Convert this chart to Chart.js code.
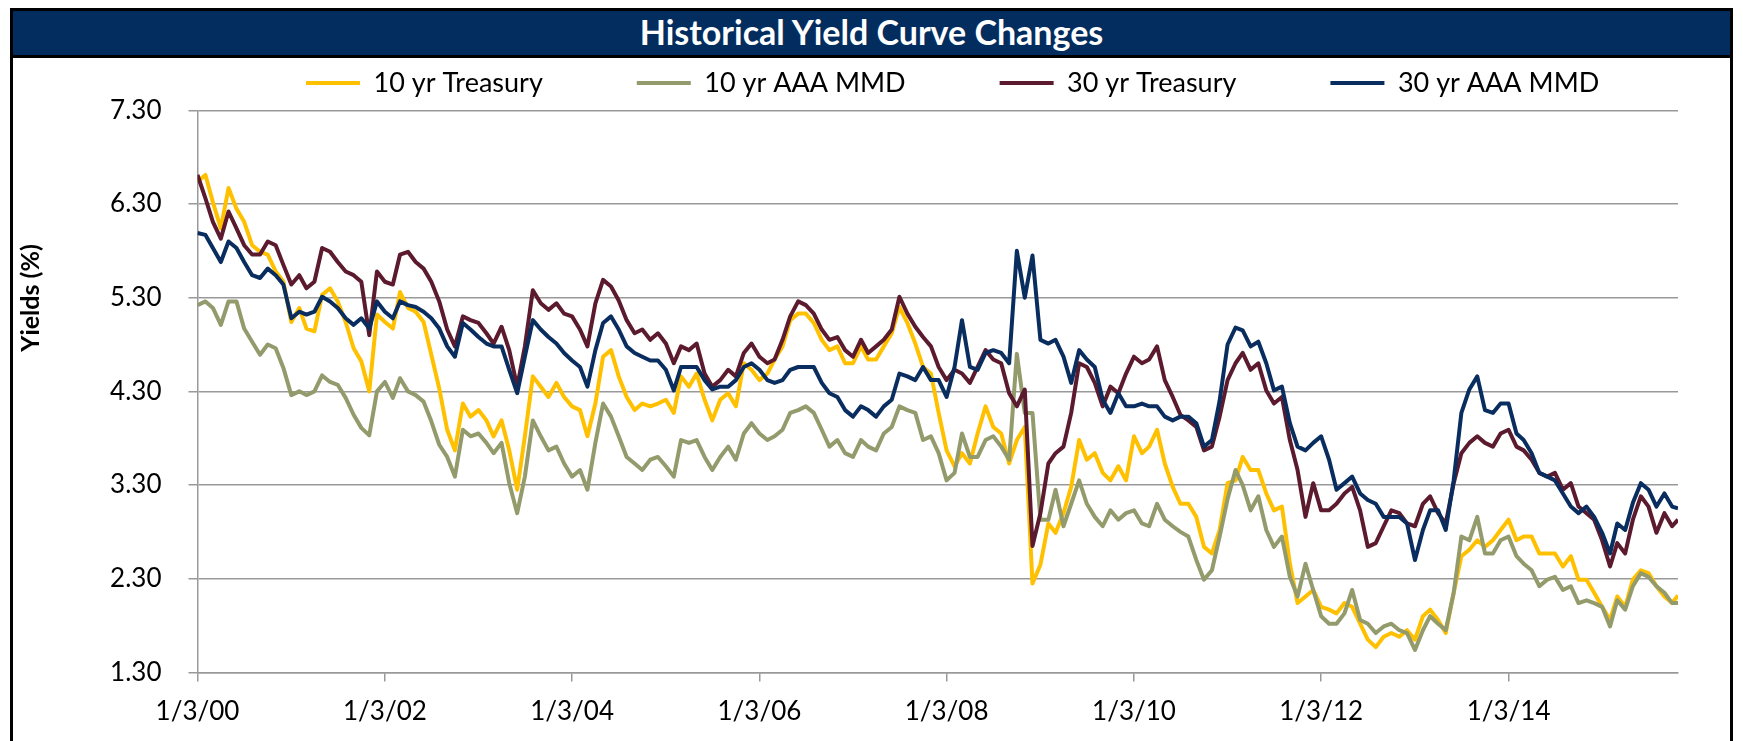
<!DOCTYPE html>
<html>
<head>
<meta charset="utf-8">
<title>Historical Yield Curve Changes</title>
<script src="https://cdn.jsdelivr.net/npm/chart.js@4.4.1/dist/chart.umd.min.js"></script>
<style>
  html, body { margin: 0; background: #fff; overflow: hidden; }
  .frame { position: absolute; left: 10px; top: 8px; width: 1717px; height: 760px; border: 3px solid #000; }
  .banner { height: 44px; line-height: 44px; background: #022d5e; border-bottom: 3px solid #000;
            color: #fff; font: bold 34px Lato, sans-serif; text-align: center; }
  canvas { display: block; }
</style>
</head>
<body>
<div class="frame">
  <div class="banner">Historical Yield Curve Changes</div>
  <canvas id="chart" width="1717" height="683"></canvas>
</div>
<script>
const seriesNames = ['10 yr Treasury', '10 yr AAA MMD', '30 yr Treasury', '30 yr AAA MMD'];
const seriesColors = ['#ffc000', '#939b6c', '#5b1a2d', '#0a2d5f'];

// one reading per month (3rd of the month) Jan 2000 - Oct 2015, then the last day shown
const dates = [];
for (let y = 2000; y <= 2015; y++) {
  for (let m = 1; m <= 12; m++) {
    if (y === 2015 && m > 10) break;
    dates.push(y + '-' + String(m).padStart(2, '0') + '-03');
  }
}
dates.push('2015-10-26');

const treasury10 = [
  6.54, 6.61, 6.32, 6.04, 6.47, 6.25, 6.11, 5.86, 5.79, 5.76, 5.58, 5.47, // 2000
  5.04, 5.19, 4.97, 4.94, 5.33, 5.40, 5.26, 5.04, 4.76, 4.62, 4.30, 5.12,
  5.04, 4.97, 5.36, 5.19, 5.15, 5.04, 4.69, 4.33, 3.89, 3.67, 4.17, 4.03,
  4.10, 3.99, 3.82, 3.99, 3.67, 3.25, 3.82, 4.46, 4.35, 4.24, 4.39, 4.24,
  4.14, 4.10, 3.82, 4.17, 4.67, 4.74, 4.46, 4.24, 4.10, 4.17, 4.14, 4.17, // 2004
  4.21, 4.07, 4.46, 4.35, 4.49, 4.21, 3.99, 4.21, 4.28, 4.14, 4.60, 4.53,
  4.42, 4.49, 4.64, 4.78, 5.06, 5.13, 5.13, 5.03, 4.85, 4.74, 4.78, 4.60,
  4.60, 4.78, 4.64, 4.64, 4.78, 4.92, 5.20, 5.03, 4.81, 4.56, 4.49, 4.07,
  3.67, 3.50, 3.64, 3.53, 3.85, 4.14, 3.92, 3.85, 3.53, 3.78, 3.92, 2.25, // 2008
  2.45, 2.89, 2.79, 3.00, 3.28, 3.78, 3.57, 3.64, 3.43, 3.35, 3.50, 3.35,
  3.82, 3.64, 3.71, 3.89, 3.53, 3.28, 3.10, 3.10, 2.96, 2.64, 2.57, 2.82,
  3.32, 3.35, 3.60, 3.46, 3.46, 3.21, 3.03, 3.07, 2.46, 2.04, 2.11, 2.18,
  2.00, 1.97, 1.93, 2.04, 2.00, 1.82, 1.65, 1.57, 1.68, 1.72, 1.68, 1.75, // 2012
  1.65, 1.90, 1.97, 1.86, 1.72, 2.15, 2.54, 2.61, 2.71, 2.64, 2.71, 2.82,
  2.93, 2.71, 2.75, 2.75, 2.57, 2.57, 2.57, 2.43, 2.54, 2.29, 2.29, 2.15,
  2.00, 1.86, 2.11, 2.00, 2.29, 2.39, 2.36, 2.22, 2.11, 2.04, 2.12
];
const mmd10 = [
  5.22, 5.26, 5.19, 5.01, 5.26, 5.26, 4.97, 4.83, 4.69, 4.80, 4.76, 4.55, // 2000
  4.26, 4.30, 4.26, 4.30, 4.47, 4.40, 4.37, 4.23, 4.05, 3.91, 3.83, 4.30,
  4.40, 4.23, 4.44, 4.30, 4.26, 4.19, 3.98, 3.73, 3.60, 3.39, 3.89, 3.82,
  3.85, 3.75, 3.64, 3.75, 3.32, 3.00, 3.39, 3.99, 3.82, 3.67, 3.71, 3.53,
  3.39, 3.46, 3.25, 3.75, 4.17, 4.03, 3.82, 3.60, 3.53, 3.46, 3.57, 3.60, // 2004
  3.50, 3.39, 3.78, 3.75, 3.78, 3.60, 3.46, 3.60, 3.71, 3.57, 3.85, 3.96,
  3.85, 3.78, 3.82, 3.89, 4.07, 4.10, 4.14, 4.07, 3.89, 3.71, 3.78, 3.64,
  3.60, 3.78, 3.71, 3.67, 3.85, 3.92, 4.14, 4.10, 4.07, 3.78, 3.82, 3.64,
  3.35, 3.43, 3.85, 3.60, 3.60, 3.78, 3.82, 3.71, 3.57, 4.70, 4.07, 4.07, // 2008
  2.93, 2.93, 3.25, 2.86, 3.10, 3.35, 3.10, 2.96, 2.86, 3.03, 2.93, 3.00,
  3.03, 2.89, 2.86, 3.10, 2.93, 2.86, 2.80, 2.75, 2.50, 2.29, 2.39, 2.75,
  3.15, 3.46, 3.30, 3.03, 3.18, 2.82, 2.64, 2.75, 2.32, 2.11, 2.46, 2.18,
  1.90, 1.82, 1.82, 1.93, 2.18, 1.86, 1.82, 1.72, 1.79, 1.82, 1.75, 1.72, // 2012
  1.54, 1.75, 1.90, 1.82, 1.75, 2.15, 2.75, 2.71, 2.96, 2.57, 2.57, 2.71,
  2.75, 2.54, 2.46, 2.39, 2.22, 2.29, 2.32, 2.18, 2.22, 2.04, 2.07, 2.04,
  2.00, 1.79, 2.07, 1.97, 2.22, 2.36, 2.32, 2.22, 2.15, 2.04, 2.04
];
const treasury30 = [
  6.61, 6.36, 6.11, 5.93, 6.22, 6.04, 5.86, 5.76, 5.76, 5.90, 5.86, 5.65, // 2000
  5.44, 5.54, 5.40, 5.47, 5.83, 5.79, 5.68, 5.58, 5.54, 5.47, 4.90, 5.58,
  5.47, 5.44, 5.76, 5.79, 5.68, 5.61, 5.47, 5.26, 4.96, 4.78, 5.10, 5.06,
  5.03, 4.92, 4.81, 4.99, 4.74, 4.35, 4.78, 5.38, 5.24, 5.17, 5.24, 5.13,
  5.10, 4.96, 4.78, 5.24, 5.49, 5.42, 5.27, 5.06, 4.92, 4.96, 4.85, 4.92, // 2004
  4.81, 4.60, 4.78, 4.74, 4.81, 4.49, 4.35, 4.42, 4.53, 4.46, 4.71, 4.81,
  4.67, 4.60, 4.64, 4.85, 5.10, 5.26, 5.22, 5.13, 4.96, 4.85, 4.88, 4.74,
  4.67, 4.85, 4.71, 4.78, 4.85, 4.96, 5.31, 5.13, 4.99, 4.88, 4.78, 4.56,
  4.42, 4.53, 4.49, 4.39, 4.56, 4.74, 4.64, 4.60, 4.28, 4.14, 4.32, 2.65, // 2008
  3.00, 3.53, 3.64, 3.71, 4.07, 4.60, 4.56, 4.39, 4.14, 4.35, 4.28, 4.49,
  4.67, 4.60, 4.64, 4.78, 4.42, 4.24, 4.05, 3.99, 3.92, 3.67, 3.71, 4.03,
  4.42, 4.60, 4.71, 4.53, 4.60, 4.31, 4.17, 4.24, 3.78, 3.46, 2.96, 3.32,
  3.03, 3.03, 3.10, 3.21, 3.28, 3.03, 2.64, 2.68, 2.86, 3.03, 3.00, 2.89, // 2012
  2.86, 3.10, 3.18, 3.00, 2.89, 3.32, 3.64, 3.75, 3.82, 3.75, 3.71, 3.85,
  3.89, 3.71, 3.67, 3.57, 3.43, 3.39, 3.43, 3.25, 3.32, 3.07, 3.00, 2.93,
  2.71, 2.43, 2.68, 2.57, 2.93, 3.18, 3.07, 2.79, 3.00, 2.86, 2.93
];
const mmd30 = [
  5.99, 5.97, 5.83, 5.68, 5.90, 5.83, 5.68, 5.54, 5.51, 5.61, 5.54, 5.44, // 2000
  5.08, 5.15, 5.12, 5.15, 5.31, 5.26, 5.19, 5.08, 5.01, 5.08, 4.97, 5.26,
  5.15, 5.08, 5.26, 5.22, 5.20, 5.15, 5.08, 4.97, 4.78, 4.67, 5.03, 4.96,
  4.88, 4.81, 4.78, 4.78, 4.53, 4.28, 4.67, 5.06, 4.96, 4.88, 4.81, 4.71,
  4.63, 4.56, 4.35, 4.74, 5.03, 5.10, 4.96, 4.78, 4.71, 4.67, 4.63, 4.63, // 2004
  4.53, 4.31, 4.56, 4.56, 4.56, 4.42, 4.32, 4.35, 4.35, 4.42, 4.56, 4.60,
  4.53, 4.42, 4.39, 4.42, 4.53, 4.56, 4.56, 4.56, 4.39, 4.28, 4.24, 4.10,
  4.03, 4.14, 4.10, 4.03, 4.14, 4.21, 4.49, 4.46, 4.42, 4.56, 4.42, 4.42,
  4.24, 4.56, 5.06, 4.56, 4.53, 4.71, 4.74, 4.71, 4.60, 5.80, 5.30, 5.75, // 2008
  4.85, 4.81, 4.85, 4.67, 4.39, 4.74, 4.64, 4.56, 4.21, 4.07, 4.28, 4.14,
  4.14, 4.17, 4.14, 4.14, 4.03, 3.99, 4.03, 4.03, 3.96, 3.71, 3.78, 4.20,
  4.80, 4.98, 4.95, 4.78, 4.83, 4.60, 4.31, 4.35, 3.96, 3.71, 3.67, 3.75,
  3.82, 3.57, 3.25, 3.32, 3.39, 3.21, 3.14, 3.10, 2.96, 2.96, 2.96, 2.89, // 2012
  2.50, 2.82, 3.03, 3.03, 2.82, 3.35, 4.07, 4.32, 4.46, 4.10, 4.07, 4.17,
  4.17, 3.85, 3.78, 3.64, 3.43, 3.39, 3.35, 3.21, 3.07, 3.00, 3.07, 2.96,
  2.79, 2.57, 2.89, 2.82, 3.11, 3.32, 3.25, 3.07, 3.21, 3.07, 3.05
];

const yTicks = [1.3, 2.3, 3.3, 4.3, 5.3, 6.3, 7.3];
const xTickLabels = ['1/3/00', '1/3/02', '1/3/04', '1/3/06', '1/3/08', '1/3/10', '1/3/12', '1/3/14'];

// x is counted in days from the first date
const day0 = Date.parse('2000-01-03');
const dayOf = s => (Date.parse(s) - day0) / 864e5;
const xLabelAt = {};
xTickLabels.forEach(l => {
  const [m, d, y] = l.split('/').map(Number);
  xLabelAt[(Date.UTC(2000 + y, m - 1, d) - day0) / 864e5] = l;
});

const allSeries = [treasury10, mmd10, treasury30, mmd30];
const datasets = allSeries.map((vals, i) => ({
  label: seriesNames[i],
  data: vals.map((v, j) => ({ x: dayOf(dates[j]), y: v })),
  borderColor: seriesColors[i],
  backgroundColor: seriesColors[i],
  borderWidth: 4,
  borderJoinStyle: 'round',
  pointRadius: 0,
  tension: 0,
  order: allSeries.length - i   // first series underneath, like Excel
}));

const FONT = 'Lato';
const LEGEND_X = 293;   // where the first legend line starts
const LEGEND_Y = 25;    // middle of the legend row

// put the legend row where the original has it
const legendSpot = {
  id: 'legendSpot',
  afterInit(chart) {
    const lg = chart.legend;
    const fit = lg.fit.bind(lg);
    lg.fit = function () { fit(); this.height = 52.3; };
  },
  afterLayout(chart) {
    const lg = chart.legend;
    const pad = lg.options.labels.padding;
    const size = lg.options.labels.font.size;
    const dx = LEGEND_X - pad - lg.left;
    lg.left += dx;
    lg.right += dx;
    lg.top = LEGEND_Y - pad - size / 2;
  }
};

const yTitle = {
  id: 'yTitle',
  afterDraw(chart) {
    const ctx = chart.ctx;
    ctx.save();
    ctx.translate(18, 240);
    ctx.rotate(-Math.PI / 2);
    ctx.font = 'bold 25px ' + FONT;
    ctx.fillStyle = '#000';
    ctx.textAlign = 'center';
    ctx.textBaseline = 'middle';
    ctx.fillText('Yields (%)', 0, 0);
    ctx.restore();
  }
};

new Chart(document.getElementById('chart'), {
  type: 'line',
  data: { datasets: datasets },
  plugins: [legendSpot, yTitle],
  options: {
    responsive: false,
    devicePixelRatio: 1,
    animation: false,
    layout: { padding: { left: 0, right: 52, top: 0, bottom: 0 } },
    plugins: {
      tooltip: { enabled: false },
      legend: {
        position: 'top',
        align: 'start',
        labels: {
          usePointStyle: true,
          pointStyle: 'line',
          pointStyleWidth: 54,
          padding: 94,
          color: '#000',
          font: { family: FONT, size: 27 },
          sort: (a, b) => a.datasetIndex - b.datasetIndex
        }
      }
    },
    scales: {
      x: {
        type: 'linear',
        min: 0,
        max: dayOf(dates[dates.length - 1]),
        afterBuildTicks: s => { s.ticks = Object.keys(xLabelAt).map(v => ({ value: Number(v) })); },
        afterFit: s => { s.height = 68.6; },
        ticks: {
          autoSkip: false,
          maxRotation: 0,
          padding: 15,
          color: '#000',
          font: { family: FONT, size: 26 },
          callback: v => xLabelAt[v]
        },
        grid: { drawOnChartArea: false, drawTicks: true, tickLength: 9, color: '#999', lineWidth: 1.5 },
        border: { color: '#999', width: 1.5 }
      },
      y: {
        min: 1.3,
        max: 7.3,
        afterBuildTicks: s => { s.ticks = yTicks.map(v => ({ value: v })); },
        afterFit: s => { s.width = 184.5; },
        ticks: {
          padding: 27,
          color: '#000',
          font: { family: FONT, size: 26 },
          callback: v => v.toFixed(2)
        },
        grid: { color: '#999', lineWidth: 1.5, tickLength: 9 },
        border: { color: '#999', width: 1.5 }
      }
    }
  }
});
</script>
</body>
</html>
